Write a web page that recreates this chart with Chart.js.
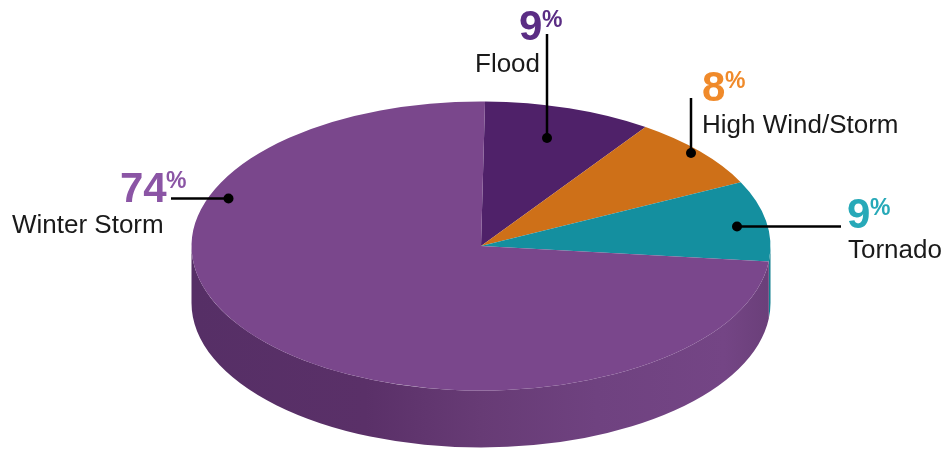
<!DOCTYPE html>
<html>
<head>
<meta charset="utf-8">
<script src="https://cdn.jsdelivr.net/npm/chart.js@4"></script>
<style>
  html, body { margin: 0; padding: 0; background: #fff; }
  canvas { display: block; }
</style>
</head>
<body>
<canvas id="graph" width="945" height="450"></canvas>
<script>
const categories = ['Flood', 'High Wind/Storm', 'Tornado', 'Winter Storm'];
// slice sizes, they round to the printed 9 / 8 / 9 / 74
const shares = [9.4, 8.1, 9.0, 73.5];
const sliceColors = ['#4f2169', '#ce7018', '#148f9f', '#7a478c'];
const wallColors = ['#3d1a52', '#a55a13', '#0f7f8e', null];
const shareColors = ['#5b2d84', '#f08a2a', '#27a9b8', '#8b55a5'];

// where the tilted pie sits on the page
const pie = { cx: 481, cy: 246, rx: 289.5, ry: 144.5, depth: 57 };

// hand placed callouts, same order as categories
const callouts = [
  { num: [519, 40], pct: [542, 27], name: [475, 72], line: [547, 34, 547, 138] },
  { num: [702, 101], pct: [725, 88], name: [702, 133], line: [691, 98, 691, 153] },
  { num: [847, 228], pct: [870, 215], name: [848, 258], line: [841, 226.5, 737, 226.5] },
  { num: [120, 202], pct: [166, 188], name: [12, 233], line: [171, 198.5, 228.5, 198.5] }
];

function wallPath(ctx, a0, a1) {
  ctx.beginPath();
  ctx.ellipse(pie.cx, pie.cy, pie.rx, pie.ry, 0, a0, a1);
  ctx.ellipse(pie.cx, pie.cy + pie.depth, pie.rx, pie.ry, 0, a1, a0, true);
  ctx.closePath();
}

const tiltedPie = {
  id: 'tiltedPie',
  beforeDatasetDraw(chart) {
    const ctx = chart.ctx;
    const arcs = chart.getDatasetMeta(0).data;
    const shade = ctx.createLinearGradient(pie.cx - pie.rx, 0, pie.cx + pie.rx, 0);
    shade.addColorStop(0, '#562f66');
    shade.addColorStop(0.3, '#5a3068');
    shade.addColorStop(0.5, '#673b75');
    shade.addColorStop(0.7, '#6f4280');
    shade.addColorStop(0.92, '#744585');
    shade.addColorStop(1, '#6a3f79');

    // side wall, only the part of each slice facing us
    arcs.forEach((arc, i) => {
      const a0 = Math.max(arc.startAngle, 0);
      const a1 = Math.min(arc.endAngle, Math.PI);
      if (a1 <= a0) return;
      wallPath(ctx, a0, a1);
      ctx.fillStyle = wallColors[i] || shade;
      ctx.fill();
    });

    // squash the round pie into the top face
    const R = arcs[0].outerRadius;
    ctx.save();
    ctx.translate(pie.cx, pie.cy);
    ctx.scale(pie.rx / R, pie.ry / R);
    ctx.translate(-arcs[0].x, -arcs[0].y);
  },
  afterDatasetDraw(chart) {
    chart.ctx.restore();
  },
  afterDraw(chart) {
    const ctx = chart.ctx;
    ctx.save();
    ctx.textAlign = 'left';
    ctx.textBaseline = 'alphabetic';
    callouts.forEach((c, i) => {
      ctx.strokeStyle = '#000';
      ctx.lineWidth = 2.5;
      ctx.beginPath();
      ctx.moveTo(c.line[0], c.line[1]);
      ctx.lineTo(c.line[2], c.line[3]);
      ctx.stroke();
      ctx.fillStyle = '#000';
      ctx.beginPath();
      ctx.arc(c.line[2], c.line[3], 5, 0, Math.PI * 2);
      ctx.fill();

      ctx.fillStyle = shareColors[i];
      ctx.font = 'bold 42px "Liberation Sans"';
      ctx.fillText(String(Math.round(shares[i])), c.num[0], c.num[1]);
      ctx.font = 'bold 23px "Liberation Sans"';
      ctx.fillText('%', c.pct[0], c.pct[1]);

      ctx.fillStyle = '#1a1a1a';
      ctx.font = '26px "Liberation Sans"';
      ctx.fillText(categories[i], c.name[0], c.name[1]);
    });
    ctx.restore();
  }
};

new Chart(document.getElementById('graph').getContext('2d'), {
  type: 'pie',
  data: {
    labels: categories,
    datasets: [{
      data: shares,
      backgroundColor: sliceColors,
      borderWidth: 0
    }]
  },
  options: {
    responsive: false,
    animation: false,
    rotation: 0.8,
    layout: { padding: 0 },
    plugins: { legend: { display: false }, tooltip: { enabled: false } }
  },
  plugins: [tiltedPie]
});
</script>
</body>
</html>
